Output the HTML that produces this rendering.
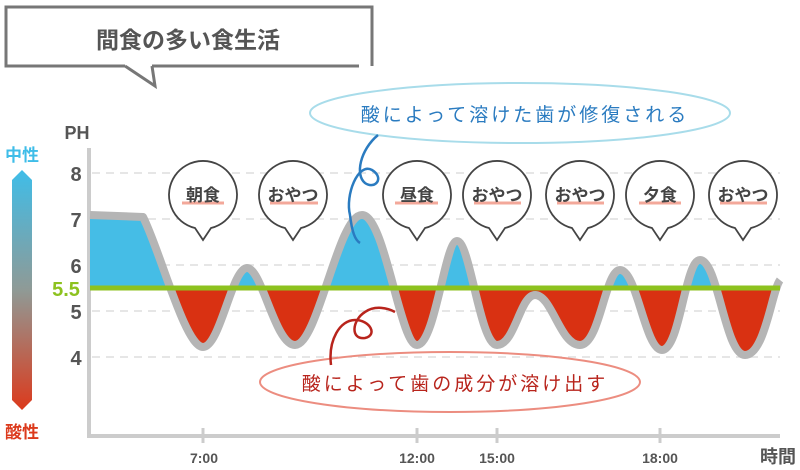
<!DOCTYPE html>
<html><head><meta charset="utf-8"><style>
html,body{margin:0;padding:0;background:#fff;}
svg{display:block;font-family:"Liberation Sans","Noto Sans CJK JP",sans-serif;}
</style></head><body>
<svg width="800" height="470" viewBox="0 0 800 470" xmlns="http://www.w3.org/2000/svg">
<defs>
<linearGradient id="g" x1="0" y1="0" x2="0" y2="1">
<stop offset="0" stop-color="#3fbde8"/><stop offset="0.5" stop-color="#8f9a96"/><stop offset="1" stop-color="#dc3a1c"/>
</linearGradient>
<clipPath id="top"><rect x="0" y="0" width="800" height="288"/></clipPath>
<clipPath id="bot"><rect x="0" y="288" width="800" height="200"/></clipPath>
</defs>
<path d="M125 66 L6 66 L6 7 L372 7 L372 66 M152 66 L359 66" fill="none" stroke="#777" stroke-width="3"/>
<path d="M125 66 L155 86 L152 66" fill="#fff" stroke="#777" stroke-width="3"/>
<text x="188" y="48" font-size="23" font-weight="bold" fill="#555" text-anchor="middle">間食の多い食生活</text>
<text x="22" y="161" font-size="17" font-weight="bold" fill="#3fbde8" text-anchor="middle">中性</text>
<path d="M12 80 L22 70 L32 80 L32 300 L22 310 L12 300 Z" transform="translate(0,100)" fill="url(#g)"/>
<text x="22" y="438" font-size="17" font-weight="bold" fill="#dc3a1c" text-anchor="middle">酸性</text>
<g stroke="#ddd" stroke-width="1.5" stroke-dasharray="8 6">
<line x1="92" y1="173" x2="780" y2="173"/><line x1="92" y1="219" x2="780" y2="219"/>
<line x1="92" y1="265" x2="780" y2="265"/><line x1="92" y1="311" x2="780" y2="311"/>
<line x1="92" y1="357" x2="780" y2="357"/>
</g>
<path d="M89 148 L89 436 L780 436" fill="none" stroke="#ccc" stroke-width="4"/>
<g stroke="#ccc" stroke-width="3"><line x1="203" y1="428" x2="203" y2="443"/><line x1="417" y1="428" x2="417" y2="443"/><line x1="497" y1="428" x2="497" y2="443"/><line x1="660" y1="428" x2="660" y2="443"/></g>
<g font-size="20" font-weight="bold" fill="#555" text-anchor="middle">
<text x="77" y="139" font-size="18">PH</text>
<text x="76" y="181">8</text><text x="76" y="227">7</text><text x="76" y="273">6</text><text x="76" y="319">5</text><text x="76" y="365">4</text>
<text x="66" y="296" fill="#8dc21f">5.5</text>
</g>
<g font-size="14" font-weight="bold" fill="#555" text-anchor="middle">
<text x="204" y="463">7:00</text><text x="417" y="463">12:00</text><text x="497" y="463">15:00</text><text x="660" y="463">18:00</text>
</g>
<text x="778" y="463" font-size="18" font-weight="bold" fill="#555" text-anchor="middle">時間</text>
<path id="cv" d="M90 215 L143 217 C160 250 185 347 203 347 C220 347 232 268 247 268 C262 268 275 345 295 345 C318 345 338 215 362 215 C385 215 400 345 417 345 C435 345 445 241 457 241 C470 241 480 345 497 345 C515 345 520 295 535 295 C552 295 560 345 580 345 C600 345 605 270 620 270 C637 270 645 350 662 350 C680 350 685 260 700 260 C718 260 725 355 745 355 C765 355 772 290 780 280" fill="none"/>
<path d="M90 215 L143 217 C160 250 185 347 203 347 C220 347 232 268 247 268 C262 268 275 345 295 345 C318 345 338 215 362 215 C385 215 400 345 417 345 C435 345 445 241 457 241 C470 241 480 345 497 345 C515 345 520 295 535 295 C552 295 560 345 580 345 C600 345 605 270 620 270 C637 270 645 350 662 350 C680 350 685 260 700 260 C718 260 725 355 745 355 C765 355 772 290 780 280 L780 288 L90 288 Z" fill="#45bde6" clip-path="url(#top)"/>
<path d="M90 215 L143 217 C160 250 185 347 203 347 C220 347 232 268 247 268 C262 268 275 345 295 345 C318 345 338 215 362 215 C385 215 400 345 417 345 C435 345 445 241 457 241 C470 241 480 345 497 345 C515 345 520 295 535 295 C552 295 560 345 580 345 C600 345 605 270 620 270 C637 270 645 350 662 350 C680 350 685 260 700 260 C718 260 725 355 745 355 C765 355 772 290 780 280 L780 288 L90 288 Z" fill="#d93112" clip-path="url(#bot)"/>
<use href="#cv" stroke="#b5b5b5" stroke-width="8" stroke-linejoin="round"/>
<line x1="90" y1="288" x2="780" y2="288" stroke="#8dc21f" stroke-width="5"/>
<g stroke="#444" stroke-width="1.8" fill="#fff">
<path transform="translate(203,195)" d="M-8 33 A34 34 0 1 1 8 33 L0 45 Z"/>
<path transform="translate(293,195)" d="M-8 33 A34 34 0 1 1 8 33 L0 45 Z"/>
<path transform="translate(417,195)" d="M-8 33 A34 34 0 1 1 8 33 L0 45 Z"/>
<path transform="translate(497,195)" d="M-8 33 A34 34 0 1 1 8 33 L0 45 Z"/>
<path transform="translate(580,195)" d="M-8 33 A34 34 0 1 1 8 33 L0 45 Z"/>
<path transform="translate(660,195)" d="M-8 33 A34 34 0 1 1 8 33 L0 45 Z"/>
<path transform="translate(743,195)" d="M-8 33 A34 34 0 1 1 8 33 L0 45 Z"/>
</g>
<g stroke="#f3a89a" stroke-width="3">
<line x1="182" y1="203" x2="224" y2="203"/><line x1="270" y1="203" x2="318" y2="203"/><line x1="395" y1="203" x2="438" y2="203"/>
<line x1="474" y1="203" x2="521" y2="203"/><line x1="557" y1="203" x2="604" y2="203"/><line x1="639" y1="203" x2="681" y2="203"/><line x1="720" y1="203" x2="767" y2="203"/>
</g>
<g font-size="17" font-weight="bold" fill="#444" text-anchor="middle">
<text x="203" y="201">朝食</text><text x="293" y="201">おやつ</text><text x="417" y="201">昼食</text><text x="497" y="201">おやつ</text>
<text x="580" y="201">おやつ</text><text x="660" y="201">夕食</text><text x="743" y="201">おやつ</text>
</g>
<ellipse cx="520" cy="113" rx="210" ry="30" fill="none" stroke="#a8dcea" stroke-width="2"/>
<text x="525" y="121" font-size="19" fill="#2a7bc0" text-anchor="middle" letter-spacing="3">酸によって溶けた歯が修復される</text>
<path d="M378 135 C360 150 355 175 365 183 C375 190 385 178 372 170 C358 162 345 195 350 215 C352 232 355 240 360 243" fill="none" stroke="#2a7bc0" stroke-width="2.5"/>
<ellipse cx="450" cy="382" rx="190" ry="30" fill="none" stroke="#ec8d80" stroke-width="2"/>
<text x="455" y="390" font-size="19" fill="#b8241c" text-anchor="middle" letter-spacing="3">酸によって歯の成分が溶け出す</text>
<path d="M331 365 C328 340 340 320 355 320 C370 320 378 335 365 338 C350 340 352 320 365 312 C375 305 388 308 395 312" fill="none" stroke="#b8241c" stroke-width="2.5"/>
</svg>
</body></html>
